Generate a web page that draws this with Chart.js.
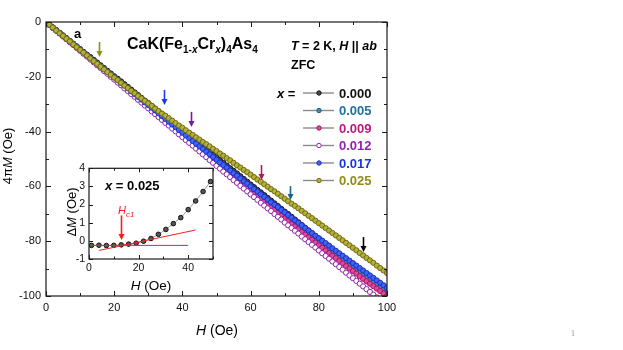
<!DOCTYPE html>
<html>
<head>
<meta charset="utf-8">
<script src="https://cdn.jsdelivr.net/npm/chart.js@4.4.1/dist/chart.umd.min.js"></script>
<style>
  body { margin: 0; background: #fff; }
  #wrap { position: relative; width: 623px; height: 350px; }
  #mainChart { position: absolute; left: 0; top: 0; }
  #insetChart { position: absolute; left: 60px; top: 158px; }
</style>
</head>
<body>
<div id="wrap">
  <canvas id="mainChart" width="623" height="350"></canvas>
  <canvas id="insetChart" width="160" height="136"></canvas>
</div>
<script>
// applied field H (Oe)
const fieldH = [0, 1, 2, 3, 4, 5, 6, 7, 8, 9,
  10, 11, 12, 13, 14, 15, 16, 17, 18, 19,
  20, 21, 22, 23, 24, 25, 26, 27, 28, 29,
  30, 31, 32, 33, 34, 35, 36, 37, 38, 39,
  40, 41, 42, 43, 44, 45, 46, 47, 48, 49,
  50, 51, 52, 53, 54, 55, 56, 57, 58, 59,
  60, 61, 62, 63, 64, 65, 66, 67, 68, 69,
  70, 71, 72, 73, 74, 75, 76, 77, 78, 79,
  80, 81, 82, 83, 84, 85, 86, 87, 88, 89,
  90, 91, 92, 93, 94, 95, 96, 97, 98, 99,
  100];

// 4piM (Oe) for each x
const m000 = [0, -1.0, -2.0, -3.0, -4.0, -4.9, -5.9, -6.9, -7.9, -8.9,
  -9.9, -10.9, -11.9, -12.8, -13.8, -14.8, -15.8, -16.8, -17.8, -18.8,
  -19.8, -20.7, -21.7, -22.7, -23.7, -24.7, -25.7, -26.7, -27.7, -28.7,
  -29.6, -30.6, -31.6, -32.6, -33.6, -34.6, -35.6, -36.6, -37.5, -38.5,
  -39.5, -40.5, -41.5, -42.5, -43.5, -44.5, -45.4, -46.4, -47.4, -48.4,
  -49.4, -50.4, -51.4, -52.4, -53.4, -54.3, -55.3, -56.3, -57.3, -58.3,
  -59.3, -60.3, -61.3, -62.2, -63.2, -64.2, -65.2, -66.2, -67.2, -68.2,
  -69.2, -70.1, -71.1, -72.1, -73.1, -74.1, -75.1, -76.1, -77.1, -78.1,
  -79.0, -80.0, -81.0, -82.0, -83.0, -84.0, -85.0, -86.0, -86.9, -87.9,
  -88.9, -89.9, -90.9, -91.9, -92.9, -93.8, -94.8, -95.8, -96.7, -97.6,
  -98.4];
const m005 = [0, -1.0, -2.0, -3.0, -4.0, -5.0, -6.0, -7.0, -8.0, -9.0,
  -10.1, -11.1, -12.1, -13.1, -14.1, -15.1, -16.1, -17.1, -18.1, -19.1,
  -20.1, -21.1, -22.1, -23.1, -24.1, -25.1, -26.1, -27.1, -28.1, -29.1,
  -30.2, -31.2, -32.2, -33.2, -34.2, -35.2, -36.2, -37.2, -38.2, -39.2,
  -40.2, -41.2, -42.2, -43.2, -44.2, -45.2, -46.2, -47.2, -48.2, -49.2,
  -50.3, -51.3, -52.3, -53.3, -54.3, -55.3, -56.3, -57.3, -58.3, -59.3,
  -60.3, -61.3, -62.3, -63.3, -64.3, -65.3, -66.3, -67.3, -68.3, -69.3,
  -70.4, -71.4, -72.4, -73.4, -74.4, -75.4, -76.3, -77.3, -78.3, -79.3,
  -80.2, -81.2, -82.2, -83.1, -84.1, -85.0, -85.9, -86.9, -87.8, -88.7,
  -89.6, -90.5, -91.4, -92.3, -93.2, -94.1, -95.0, -95.9, -96.8, -97.6,
  -98.5];
const m009 = [0, -1.0, -2.1, -3.1, -4.1, -5.1, -6.2, -7.2, -8.2, -9.2,
  -10.3, -11.3, -12.3, -13.3, -14.4, -15.4, -16.4, -17.4, -18.5, -19.5,
  -20.5, -21.5, -22.6, -23.6, -24.6, -25.6, -26.7, -27.7, -28.7, -29.7,
  -30.8, -31.8, -32.8, -33.8, -34.9, -35.9, -36.9, -37.9, -39.0, -40.0,
  -41.0, -42.0, -43.1, -44.1, -45.1, -46.1, -47.2, -48.2, -49.2, -50.2,
  -51.3, -52.3, -53.3, -54.3, -55.4, -56.4, -57.4, -58.4, -59.5, -60.5,
  -61.5, -62.5, -63.6, -64.6, -65.6, -66.6, -67.6, -68.6, -69.7, -70.7,
  -71.7, -72.7, -73.7, -74.6, -75.6, -76.6, -77.6, -78.6, -79.5, -80.5,
  -81.5, -82.4, -83.4, -84.3, -85.3, -86.2, -87.2, -88.1, -89.1, -90.0,
  -90.9, -91.8, -92.8, -93.7, -94.6, -95.5, -96.4, -97.3, -98.2, -99.1,
  -100.0];
const m012 = [0, -1.1, -2.1, -3.2, -4.2, -5.3, -6.3, -7.4, -8.4, -9.5,
  -10.5, -11.6, -12.6, -13.7, -14.7, -15.8, -16.8, -17.9, -18.9, -20.0,
  -21.0, -22.1, -23.1, -24.2, -25.2, -26.3, -27.3, -28.4, -29.4, -30.5,
  -31.5, -32.6, -33.6, -34.7, -35.7, -36.8, -37.8, -38.9, -39.9, -41.0,
  -42.0, -43.1, -44.1, -45.1, -46.2, -47.2, -48.3, -49.3, -50.4, -51.4,
  -52.5, -53.5, -54.6, -55.6, -56.6, -57.7, -58.7, -59.8, -60.8, -61.8,
  -62.9, -63.9, -64.9, -66.0, -67.0, -68.0, -69.0, -70.1, -71.1, -72.1,
  -73.2, -74.2, -75.2, -76.2, -77.2, -78.3, -79.3, -80.3, -81.3, -82.3,
  -83.4, -84.4, -85.4, -86.4, -87.4, -88.4, -89.4, -90.4, -91.5, -92.5,
  -93.5, -94.5, -95.5, -96.5, -97.5, -98.5, -99.5, -100.5, -101.5, -102.5,
  -103.5];
const m017 = [0, -1.0, -2.0, -3.0, -4.0, -5.1, -6.1, -7.1, -8.1, -9.1,
  -10.1, -11.1, -12.1, -13.1, -14.1, -15.2, -16.2, -17.2, -18.2, -19.2,
  -20.2, -21.2, -22.2, -23.2, -24.2, -25.3, -26.3, -27.3, -28.3, -29.3,
  -30.3, -31.3, -32.3, -33.3, -34.3, -35.4, -36.4, -37.4, -38.4, -39.4,
  -40.4, -41.4, -42.4, -43.4, -44.4, -45.4, -46.3, -47.3, -48.3, -49.3,
  -50.3, -51.3, -52.2, -53.2, -54.2, -55.2, -56.1, -57.1, -58.1, -59.0,
  -60.0, -61.0, -61.9, -62.9, -63.8, -64.8, -65.8, -66.7, -67.6, -68.6,
  -69.5, -70.5, -71.4, -72.4, -73.3, -74.2, -75.2, -76.1, -77.0, -78.0,
  -78.9, -79.8, -80.7, -81.6, -82.6, -83.5, -84.4, -85.3, -86.2, -87.1,
  -88.0, -88.9, -89.8, -90.7, -91.6, -92.5, -93.4, -94.3, -95.2, -96.1,
  -97.0];
const m025 = [0, -1.0, -2.0, -3.1, -4.1, -5.1, -6.1, -7.1, -8.2, -9.2,
  -10.2, -11.2, -12.2, -13.3, -14.3, -15.3, -16.3, -17.3, -18.3, -19.3,
  -20.3, -21.2, -22.2, -23.2, -24.1, -25.1, -26.0, -27.0, -27.9, -28.8,
  -29.7, -30.6, -31.6, -32.5, -33.4, -34.2, -35.1, -36.0, -36.9, -37.8,
  -38.6, -39.5, -40.4, -41.2, -42.1, -42.9, -43.8, -44.6, -45.4, -46.3,
  -47.1, -48.0, -48.8, -49.7, -50.5, -51.4, -52.3, -53.1, -54.0, -54.8,
  -55.7, -56.6, -57.5, -58.3, -59.2, -60.1, -61.0, -61.8, -62.7, -63.6,
  -64.5, -65.4, -66.3, -67.1, -68.0, -68.9, -69.8, -70.7, -71.6, -72.5,
  -73.4, -74.3, -75.2, -76.1, -77.0, -77.9, -78.8, -79.7, -80.6, -81.5,
  -82.4, -83.3, -84.3, -85.2, -86.1, -87.0, -87.9, -88.9, -89.8, -90.7,
  -91.6];

const seriesLabels = ['0.000', '0.005', '0.009', '0.012', '0.017', '0.025'];
const seriesValues = [m000, m005, m009, m012, m017, m025];

// arrows: field where each curve leaves the linear line, top and tip in 4piM
const arrowH = [93, 71.5, 63, 42.5, 34.6, 15.5];
const arrowTop = [-78.5, -59.9, -52.2, -32.8, -24.8, -7.3];
const arrowTip = [-83.9, -65.0, -57.7, -38.3, -30.3, -12.8];

// inset: x = 0.025, deviation from linearity
const insetH = [1, 4, 7, 10, 13, 16, 19, 22, 25, 28, 31, 34, 37, 40, 43, 46, 49];
const insetDM = [-0.25, -0.24, -0.26, -0.25, -0.22, -0.18, -0.13, -0.02, 0.13, 0.36, 0.63, 0.95, 1.28, 1.72, 2.2, 2.72, 3.27];
const flatFitH = [0, 40];
const flatFitDM = [-0.25, -0.25];
const slopeFitH = [4, 43];
const slopeFitDM = [-0.53, 0.6];
const hc1H = 13;
const hc1Top = 1.4;
const hc1Tip = 0.05;

const pointBorder = ['#111111', '#1d5c82', '#a8125e', '#8e22aa', '#1630c8', '#6e6b12'];
const pointFill = ['#4a4a4a', '#3d8cbd', '#dc4a98', '#ffffff', '#4262f0', '#b4b03a'];
const textColors = ['#111111', '#1f6f9f', '#c0187a', '#9022b0', '#1a35e0', '#8f8d12'];
const arrowColors = ['#000000', '#1a6292', '#b0185a', '#7a1a9a', '#1a3ae0', '#948f12'];
const drawOrder = [5, 4, 3, 2, 1, 0];

const FF = '"Liberation Sans", Arial, sans-serif';
const font = (style, size) => style + ' ' + size + 'px ' + FF;
Chart.defaults.font.family = FF;

function textRuns(ctx, x, y, parts, align) {
  ctx.textAlign = 'left';
  ctx.textBaseline = 'alphabetic';
  let w = 0;
  parts.forEach(p => { ctx.font = p.font; w += ctx.measureText(p.text).width; });
  let cx = align === 'center' ? x - w / 2 : x;
  parts.forEach(p => {
    ctx.font = p.font;
    ctx.fillStyle = p.color || '#000';
    ctx.fillText(p.text, cx, y + (p.dy || 0));
    cx += ctx.measureText(p.text).width;
  });
}

function drawBox(chart, xTicks, yTicks) {
  const { ctx, chartArea: a, scales: { x, y } } = chart;
  ctx.save();
  ctx.strokeStyle = '#1a1a1a';
  ctx.lineWidth = 1.2;
  ctx.strokeRect(a.left, a.top, a.right - a.left, a.bottom - a.top);
  ctx.lineWidth = 1;
  ctx.beginPath();
  xTicks.forEach(([v, len]) => {
    const px = Math.round(x.getPixelForValue(v)) + 0.5;
    ctx.moveTo(px, a.bottom); ctx.lineTo(px, a.bottom - len);
    ctx.moveTo(px, a.top); ctx.lineTo(px, a.top + len);
  });
  yTicks.forEach(([v, len]) => {
    const py = Math.round(y.getPixelForValue(v)) + 0.5;
    ctx.moveTo(a.left, py); ctx.lineTo(a.left + len, py);
    ctx.moveTo(a.right, py); ctx.lineTo(a.right - len, py);
  });
  ctx.stroke();
  ctx.restore();
}

function downArrow(ctx, px, y0, y1, color) {
  ctx.strokeStyle = color;
  ctx.fillStyle = color;
  ctx.lineWidth = 1.6;
  ctx.beginPath();
  ctx.moveTo(px, y0);
  ctx.lineTo(px, y1 - 5);
  ctx.stroke();
  ctx.beginPath();
  ctx.moveTo(px - 3, y1 - 6);
  ctx.lineTo(px + 3, y1 - 6);
  ctx.lineTo(px, y1);
  ctx.closePath();
  ctx.fill();
}

const mainDecor = {
  id: 'mainDecor',
  afterDatasetsDraw(chart) {
    const { ctx, scales: { x, y } } = chart;
    const xt = [], yt = [];
    for (let v = 0; v <= 100; v += 10) xt.push([v, v % 20 === 0 ? 5 : 3]);
    for (let v = -100; v <= 0; v += 10) yt.push([v, v % 20 === 0 ? 5 : 3]);
    drawBox(chart, xt, yt);

    ctx.save();
    arrowH.forEach((h, i) => {
      downArrow(ctx, Math.round(x.getPixelForValue(h)) + 0.5,
        y.getPixelForValue(arrowTop[i]), y.getPixelForValue(arrowTip[i]), arrowColors[i]);
    });

    const B = s => font('bold', s), BI = s => font('italic bold', s);
    textRuns(ctx, 74, 38, [{ text: 'a', font: B(13) }]);
    textRuns(ctx, 127, 49, [
      { text: 'CaK(Fe', font: B(16) },
      { text: '1-', font: B(10), dy: 4 },
      { text: 'x', font: BI(10), dy: 4 },
      { text: 'Cr', font: B(16) },
      { text: 'x', font: BI(10), dy: 4 },
      { text: ')', font: B(16) },
      { text: '4', font: B(10), dy: 4 },
      { text: 'As', font: B(16) },
      { text: '4', font: B(10), dy: 4 }
    ]);
    textRuns(ctx, 291, 49.5, [
      { text: 'T', font: BI(12.5) },
      { text: ' = 2 K, ', font: B(12.5) },
      { text: 'H', font: BI(12.5) },
      { text: ' || ', font: B(12.5) },
      { text: 'ab', font: BI(12.5) }
    ]);
    textRuns(ctx, 291, 68.5, [{ text: 'ZFC', font: B(12.5) }]);
    textRuns(ctx, 277, 97.5, [{ text: 'x', font: BI(13) }, { text: ' =', font: B(13) }]);

    // legend
    seriesLabels.forEach((lab, i) => {
      const yy = 93 + i * 17.5;
      ctx.strokeStyle = '#8a8a8a';
      ctx.lineWidth = 1.4;
      ctx.beginPath();
      ctx.moveTo(303, yy); ctx.lineTo(334, yy);
      ctx.stroke();
      ctx.beginPath();
      ctx.arc(319, yy, 2.2, 0, Math.PI * 2);
      ctx.fillStyle = pointFill[i];
      ctx.fill();
      ctx.lineWidth = 1;
      ctx.strokeStyle = pointBorder[i];
      ctx.stroke();
      textRuns(ctx, 339, yy + 4.5, [{ text: lab, font: B(13), color: textColors[i] }]);
    });

    // axis titles
    textRuns(ctx, 217, 335, [
      { text: 'H', font: font('italic', 14) },
      { text: ' (Oe)', font: font('normal', 14) }
    ], 'center');
    ctx.save();
    ctx.translate(12, 156);
    ctx.rotate(-Math.PI / 2);
    textRuns(ctx, 0, 0, [
      { text: '4\u03c0', font: font('normal', 13) },
      { text: 'M', font: font('italic', 13) },
      { text: ' (Oe)', font: font('normal', 13) }
    ], 'center');
    ctx.restore();

    // slide page number
    ctx.font = '9px "Liberation Serif", serif';
    ctx.fillStyle = '#9a9a9a';
    ctx.textAlign = 'center';
    ctx.fillText('1', 573, 336);
    ctx.restore();
  }
};

new Chart(document.getElementById('mainChart'), {
  type: 'line',
  data: {
    datasets: seriesLabels.map((lab, i) => ({
      label: lab,
      data: fieldH.map((h, k) => ({ x: h, y: seriesValues[i][k] })),
      borderColor: pointBorder[i],
      borderWidth: 0.8,
      pointRadius: 2.6,
      pointBorderWidth: 1,
      pointBackgroundColor: pointFill[i],
      pointBorderColor: pointBorder[i],
      order: drawOrder[i]
    }))
  },
  options: {
    responsive: false,
    animation: false,
    devicePixelRatio: 1,
    layout: { padding: { top: 22, right: 236, left: 0, bottom: 0 } },
    plugins: { legend: { display: false }, tooltip: { enabled: false } },
    scales: {
      x: {
        type: 'linear', min: 0, max: 100,
        grid: { display: false, drawTicks: false },
        border: { display: false },
        ticks: { stepSize: 20, padding: 5, color: '#111', font: { size: 11 } },
        afterFit: s => { s.height = 54; }
      },
      y: {
        type: 'linear', min: -100, max: 0,
        grid: { display: false, drawTicks: false },
        border: { display: false },
        ticks: { stepSize: 20, padding: 5, color: '#111', font: { size: 11 } },
        afterFit: s => { s.width = 46; }
      }
    }
  },
  plugins: [mainDecor]
});

const insetDecor = {
  id: 'insetDecor',
  afterDatasetsDraw(chart) {
    const { ctx, scales: { x, y } } = chart;
    const xt = [], yt = [];
    for (let v = 0; v <= 50; v += 10) xt.push([v, v % 20 === 0 ? 4 : 2.5]);
    for (let v = -1; v <= 4; v += 1) yt.push([v, 4]);
    drawBox(chart, xt, yt);
    ctx.save();
    downArrow(ctx, Math.round(x.getPixelForValue(hc1H)) + 0.5,
      y.getPixelForValue(hc1Top), y.getPixelForValue(hc1Tip), '#ff1a1a');
    textRuns(ctx, 58, 56, [
      { text: 'H', font: font('italic', 11), color: '#ff1a1a' },
      { text: 'c1', font: font('italic', 8), color: '#ff1a1a', dy: 3 }
    ]);
    textRuns(ctx, 45, 31.5, [
      { text: 'x', font: font('italic bold', 13) },
      { text: ' = 0.025', font: font('bold', 13) }
    ]);
    textRuns(ctx, 91, 132, [
      { text: 'H', font: font('italic', 13.5) },
      { text: ' (Oe)', font: font('normal', 13.5) }
    ], 'center');
    ctx.save();
    ctx.translate(16, 54);
    ctx.rotate(-Math.PI / 2);
    textRuns(ctx, 0, 0, [
      { text: '\u0394', font: font('normal', 13) },
      { text: 'M', font: font('italic', 13) },
      { text: ' (Oe)', font: font('normal', 13) }
    ], 'center');
    ctx.restore();
    ctx.restore();
  }
};

new Chart(document.getElementById('insetChart'), {
  type: 'line',
  data: {
    datasets: [
      {
        data: flatFitH.map((h, k) => ({ x: h, y: flatFitDM[k] })),
        borderColor: '#ff2020', borderWidth: 1, pointRadius: 0
      },
      {
        data: slopeFitH.map((h, k) => ({ x: h, y: slopeFitDM[k] })),
        borderColor: '#ff2020', borderWidth: 1, pointRadius: 0
      },
      {
        data: insetH.map((h, k) => ({ x: h, y: insetDM[k] })),
        borderColor: '#9a9a9a', borderWidth: 1,
        pointRadius: 2.3, pointBorderWidth: 1,
        pointBackgroundColor: '#555', pointBorderColor: '#111'
      }
    ]
  },
  options: {
    responsive: false,
    animation: false,
    devicePixelRatio: 1,
    layout: { padding: { top: 8, right: 7, left: 0, bottom: 0 } },
    plugins: { legend: { display: false }, tooltip: { enabled: false } },
    scales: {
      x: {
        type: 'linear', min: 0, max: 50,
        grid: { display: false, drawTicks: false },
        border: { display: false },
        ticks: { stepSize: 20, includeBounds: false, padding: 3, color: '#111', font: { size: 10.5 } },
        afterFit: s => { s.height = 35; }
      },
      y: {
        type: 'linear', min: -1, max: 4,
        grid: { display: false, drawTicks: false },
        border: { display: false },
        ticks: { stepSize: 1, padding: 4, color: '#111', font: { size: 10.5 } },
        afterFit: s => { s.width = 29; }
      }
    }
  },
  plugins: [insetDecor]
});
</script>
</body>
</html>
